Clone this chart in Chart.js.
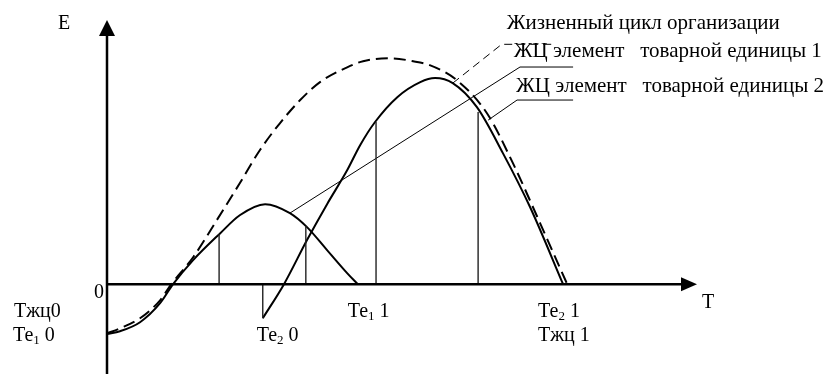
<!DOCTYPE html>
<html>
<head>
<meta charset="utf-8">
<style>
  html, body { margin: 0; padding: 0; background: #fff; }
  #wrap { width: 829px; height: 374px; }
</style>
<script src="https://cdn.jsdelivr.net/npm/chart.js@4.4.1/dist/chart.umd.min.js"></script>
</head>
<body>
<div id="wrap"><canvas id="lifeCycle" width="829" height="374"></canvas></div>
<script>
// --- data (T = time, E = effect) ---
const orgT = [0, 2.2, 5.6, 9.0, 10.9, 14.6, 18.6, 22.5, 25.9, 29.3, 32.7, 36.1, 40.7, 43.4, 48.0, 51.9, 54.7, 59.3, 64.4, 68.8, 73.4, 78.0];
const orgE = [-18.6, -16.7, -12.9, -6.1, 0, 10.2, 24.2, 38.2, 50.7, 60.9, 69.6, 76.5, 82.1, 84.4, 85.5, 84.4, 82.9, 77.2, 64.7, 45.8, 23.1, 0];

const el1T = [0, 2.2, 5.6, 9.0, 11.2, 14.6, 19.2, 22.5, 26.8, 31.0, 33.9, 37.3, 40.7, 42.5];
const el1E = [-18.9, -17.8, -14.4, -7.2, 0, 9.1, 19.3, 26.1, 30.3, 26.9, 21.6, 12.9, 4.2, 0];

const el2T = [26.4, 30.0, 33.9, 37.3, 40.7, 42.9, 45.4, 49.2, 53.1, 55.6, 58.6, 62.7, 67.1, 71.7, 77.3];
const el2E = [-12.9, 0, 16.7, 30.3, 43.1, 52.6, 61.3, 70.8, 76.5, 78.0, 76.1, 67.0, 49.6, 29.2, 0];

// vertical guides from the T axis up to the curves
const guideT = [19.0, 33.7, 45.6, 62.9, 26.4];
const guideE = [18.9, 22.0, 61.4, 65.2, -12.9];

// leader lines to the captions
const leaderOrgT = [58.6, 66.9, 75.9];
const leaderOrgE = [76.1, 90.8, 90.8];
const leader1T = [31.0, 70.0, 79.0];
const leader1E = [26.9, 82.2, 82.2];
const leader2T = [64.6, 69.5, 79.0];
const leader2E = [62.1, 69.7, 69.7];

const captions = ['Жизненный цикл организации', 'ЖЦ элемент   товарной единицы 1', 'ЖЦ элемент   товарной единицы 2'];

const pts = (xs, ys) => xs.map((x, i) => ({ x: x, y: ys[i] }));

const curve = (data, dash) => ({
    data: data,
    showLine: true,
    borderColor: '#000',
    borderWidth: 2,
    borderDash: dash || [],
    pointRadius: 0,
    cubicInterpolationMode: 'monotone',
    fill: false
});

const thin = (data, dash, color, width) => ({
    data: data,
    showLine: true,
    borderColor: color || '#000',
    borderWidth: width || 1,
    borderDash: dash || [],
    pointRadius: 0,
    tension: 0,
    fill: false
});

const datasets = [];
guideT.forEach((t, i) => datasets.push(thin(pts([t, t], [0, guideE[i]]), null, '#222', 1.4)));
datasets.push(thin(pts(leaderOrgT, leaderOrgE), [8, 5]));
datasets.push(thin(pts(leader1T, leader1E)));
datasets.push(thin(pts(leader2T, leader2E)));
datasets.push(curve(pts(orgT, orgE), [12, 6]));
datasets.push(curve(pts(el1T, el1E)));
datasets.push(curve(pts(el2T, el2E)));

const SERIF = '"Liberation Serif", "Times New Roman", serif';

// draws "Те" + subscript + rest
function subLabel(ctx, x, y, main, sub, rest) {
    ctx.font = '20px ' + SERIF;
    ctx.fillText(main, x, y);
    x += ctx.measureText(main).width;
    if (sub) {
        ctx.font = '13px ' + SERIF;
        ctx.fillText(sub, x, y + 3);
        x += ctx.measureText(sub).width;
    }
    ctx.font = '20px ' + SERIF;
    ctx.fillText(rest, x, y);
}

const axesPlugin = {
    id: 'axesPlugin',
    afterDatasetsDraw(chart) {
        const ctx = chart.ctx;
        const xs = chart.scales.x, ys = chart.scales.y;
        const x0 = xs.getPixelForValue(0), y0 = ys.getPixelForValue(0);
        const xEnd = xs.getPixelForValue(xs.max), yTop = ys.getPixelForValue(ys.max);
        const yBot = ys.getPixelForValue(ys.min);

        ctx.save();
        ctx.fillStyle = '#000';
        ctx.textBaseline = 'alphabetic';

        // text first, axes on top
        ctx.font = '20px ' + SERIF;
        ctx.fillText('E', x0 - 49, yTop + 9);
        ctx.fillText('0', x0 - 13, y0 + 14);
        ctx.fillText('T', xEnd + 5, y0 + 24);

        subLabel(ctx, 14, y0 + 33, 'Тжц0', '', '');
        subLabel(ctx, 13, y0 + 57, 'Те', '1', ' 0');
        subLabel(ctx, xs.getPixelForValue(el2T[0]) - 6, y0 + 57, 'Те', '2', ' 0');
        subLabel(ctx, xs.getPixelForValue(el1T[el1T.length - 1]) - 10, y0 + 33, 'Те', '1', ' 1');
        subLabel(ctx, xs.getPixelForValue(el2T[el2T.length - 1]) - 25, y0 + 33, 'Те', '2', ' 1');
        subLabel(ctx, xs.getPixelForValue(el2T[el2T.length - 1]) - 25, y0 + 57, 'Тжц 1', '', '');

        ctx.font = '21px ' + SERIF;
        ctx.fillText(captions[0], xs.getPixelForValue(leaderOrgT[1]) + 5, yTop + 9);
        ctx.fillText(captions[1], xs.getPixelForValue(leaderOrgT[1]) + 12, yTop + 37);
        ctx.fillText(captions[2], xs.getPixelForValue(leader2T[1]) - 1, yTop + 72);

        // axes with arrow heads
        ctx.strokeStyle = '#000';
        ctx.lineWidth = 2.5;
        ctx.beginPath();
        ctx.moveTo(x0, yBot);
        ctx.lineTo(x0, yTop + 12);
        ctx.moveTo(x0, y0);
        ctx.lineTo(xEnd - 12, y0);
        ctx.stroke();

        ctx.beginPath();
        ctx.moveTo(x0, yTop);
        ctx.lineTo(x0 - 8, yTop + 16);
        ctx.lineTo(x0 + 8, yTop + 16);
        ctx.closePath();
        ctx.fill();

        ctx.beginPath();
        ctx.moveTo(xEnd, y0);
        ctx.lineTo(xEnd - 16, y0 - 7);
        ctx.lineTo(xEnd - 16, y0 + 7);
        ctx.closePath();
        ctx.fill();
        ctx.restore();
    }
};

new Chart(document.getElementById('lifeCycle').getContext('2d'), {
    type: 'scatter',
    data: { datasets: datasets },
    options: {
        responsive: false,
        animation: false,
        layout: { padding: { left: 107, right: 132, top: 20, bottom: 0 } },
        plugins: { legend: { display: false }, tooltip: { enabled: false } },
        scales: {
            x: { type: 'linear', min: 0, max: 100, display: false },
            y: { type: 'linear', min: -34, max: 100, display: false }
        }
    },
    plugins: [axesPlugin]
});
</script>
</body>
</html>
